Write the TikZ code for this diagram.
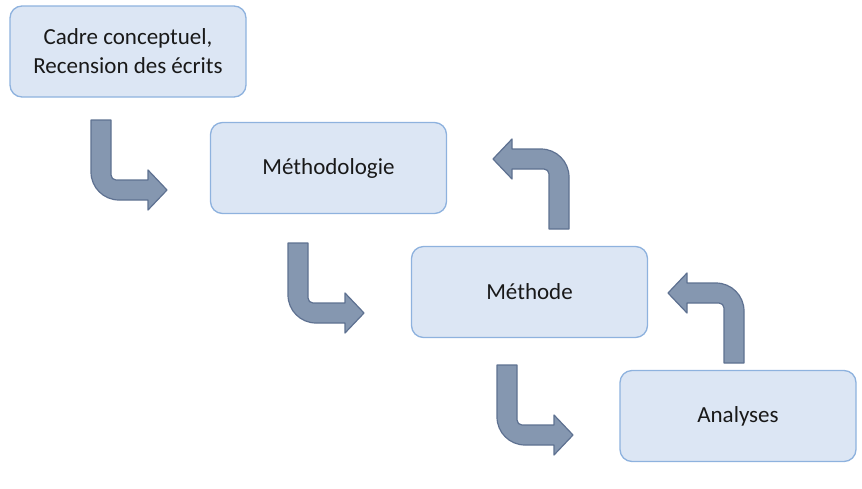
\documentclass[tikz,border=0pt]{standalone}
\usepackage{fontspec}
\setmainfont{Carlito}
\definecolor{boxfill}{HTML}{DCE6F4}
\definecolor{boxline}{HTML}{8EB2DE}
\definecolor{arrfill}{HTML}{8597B0}
\definecolor{arrline}{HTML}{5E7191}
\tikzset{
  stagebox/.style={draw=boxline, line width=1.3pt, fill=boxfill, rounded corners=12pt,
    minimum width=236pt, minimum height=91pt, align=center, inner sep=2pt,
    font=\fontsize{23}{29}\selectfont, text=black!90},
  bentarrow/.pic={
    \draw[fill=arrfill, draw=arrline, line width=1.2pt, line join=round]
      (0,0) -- (20,0) -- (20,55) arc[start angle=180, end angle=90, radius=5]
      -- (57,60) -- (57,50) -- (76,70) -- (57,90) -- (57,80) -- (28,80)
      arc[start angle=90, end angle=180, radius=28] -- cycle;
  }
}
\begin{document}
\begin{tikzpicture}[x=1pt, y=-1pt]
\path[use as bounding box] (0,0) rectangle (862,488);
\node[stagebox] (cadre) at (128,51.5) {Cadre conceptuel,\\Recension des écrits};
\node[stagebox] (methodologie) at (328.5,168) {Méthodologie};
\node[stagebox] (methode) at (529.5,292) {Méthode};
\node[stagebox] (analyses) at (738,416) {Analyses};
\pic at (91,120) {bentarrow};
\pic at (288,243) {bentarrow};
\pic at (497,365) {bentarrow};
\pic[rotate=180] at (569,229) {bentarrow};
\pic[rotate=180] at (744,363) {bentarrow};
\end{tikzpicture}
\end{document}
